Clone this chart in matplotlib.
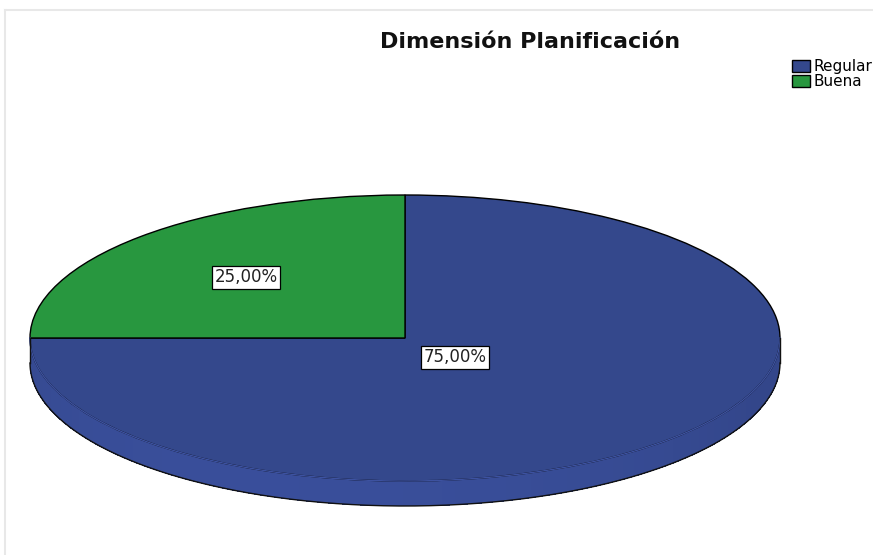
import numpy as np
import matplotlib.pyplot as plt
from matplotlib.colors import to_rgb
from matplotlib.lines import Line2D

categorias = ['Regular', 'Buena']
porcentajes = [75.0, 25.0]
etiquetas = ['75,00%', '25,00%']

colores = ['#34488c', '#28973f']
colores_lado = ['#33468a', '#23803a']

# geometría del pastel en píxeles de la figura
W, H = 873, 555
cx, cy, rx, ry, grosor = 405, 338, 375, 143, 25
h = grosor / ry

fig = plt.figure(figsize=(W / 100, H / 100), dpi=100)
ax = fig.add_axes([0, 0, 1, 1])

wedges, _ = ax.pie(porcentajes, colors=colores, startangle=90, counterclock=False,
                   radius=1, center=(0, 0),
                   wedgeprops=dict(edgecolor='black', linewidth=1.0, zorder=3))

ax.set_aspect('auto')
ax.set_xlim(-cx / rx, (W - cx) / rx)
ax.set_ylim((cy - H) / ry, cy / ry)
ax.axis('off')

# costado del pastel (solo la mitad frontal es visible)
for w, col in zip(wedges, colores_lado):
    base = np.array(to_rgb(col))
    for k in (-1, 0, 1):
        a = max(w.theta1 + 360 * k, -180)
        b = min(w.theta2 + 360 * k, 0)
        if b - a <= 0:
            continue
        bordes = np.linspace(a, b, 91)
        for t0, t1 in zip(bordes[:-1], bordes[1:]):
            t = np.radians(np.linspace(t0 - 0.3, t1 + 0.3, 4))
            xs = np.concatenate([np.cos(t), np.cos(t[::-1])])
            ys = np.concatenate([np.sin(t), np.sin(t[::-1]) - h])
            luz = 0.12 * max(0.0, -np.sin(np.radians((t0 + t1) / 2 + 20)))
            c = np.clip(base * (1 + luz), 0, 1)
            ax.fill(xs, ys, color=c, lw=0, antialiased=False, zorder=1)

# borde frontal de la cara superior y contorno inferior
t = np.radians(np.linspace(-180, 0, 300))
ax.plot(np.cos(t), np.sin(t), color='#3d52a0', lw=1.0, zorder=4)
ax.plot(np.cos(t), np.sin(t) - h, color='#111111', lw=1.0, zorder=4)
ax.plot([-1, -1], [0, -h], color='#111111', lw=1.0, zorder=4)
ax.plot([1, 1], [0, -h], color='#111111', lw=1.0, zorder=4)

# etiquetas de porcentaje
distancias = [0.19, 0.60]
for w, txt, d in zip(wedges, etiquetas, distancias):
    m = np.radians((w.theta1 + w.theta2) / 2)
    ax.text(d * np.cos(m), d * np.sin(m), txt, ha='center', va='center',
            fontsize=12, color='#222222', zorder=5,
            bbox=dict(boxstyle='square,pad=0.15', fc='white', ec='black', lw=0.9))

fig.text(530 / W, 1 - 42 / H, 'Dimensión Planificación', ha='center', va='center',
         fontsize=16, fontweight='bold', color='#111111')

fig.legend(wedges, categorias, loc='upper left', bbox_to_anchor=(792 / W, 1 - 59 / H),
           frameon=False, fontsize=11, handlelength=1.2, handleheight=0.85,
           handletextpad=0.2, labelspacing=0.0, borderpad=0, borderaxespad=0)

# marco gris claro
fig.add_artist(Line2D([5 / W, 5 / W], [0, 1 - 10 / H], color='#e8e8e8', lw=1.5))
fig.add_artist(Line2D([5 / W, 1], [1 - 10 / H, 1 - 10 / H], color='#e8e8e8', lw=1.5))

fig.savefig('out.png', dpi=100, facecolor='white')
